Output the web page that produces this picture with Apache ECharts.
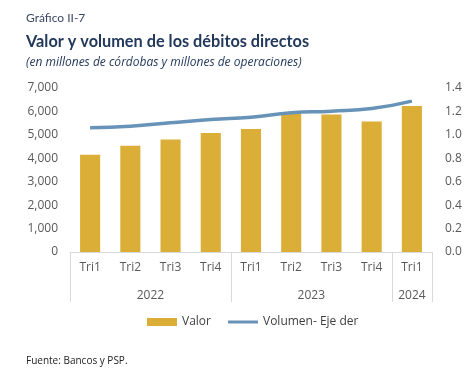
<!DOCTYPE html>
<html><head><meta charset="utf-8">
<script src="https://cdn.jsdelivr.net/npm/echarts@6/dist/echarts.min.js"></script>
<style>html,body{margin:0;padding:0;background:#fff}#c{width:472px;height:381px}</style>
</head><body><div id="c"></div>
<script>
var quarters = ['Tri1','Tri2','Tri3','Tri4','Tri1','Tri2','Tri3','Tri4','Tri1'];
var years = ['2022','2023','2024'];
var yearSpans = [4,4,1];
var valor = [4150, 4540, 4800, 5080, 5250, 5900, 5870, 5570, 6230];
var volumen = [1.06, 1.074, 1.103, 1.131, 1.15, 1.188, 1.202, 1.225, 1.288];
var leftTicks = [0,1000,2000,3000,4000,5000,6000,7000];
var rightTicks = [0,0.2,0.4,0.6,0.8,1.0,1.2,1.4];

var bounds = [0], centers = [];
yearSpans.forEach(function(s,i){ var b = bounds[bounds.length-1]; centers.push(b + s/2); bounds.push(b + s); });

var font = 'Open Sans';
var chart = echarts.init(document.getElementById('c'));
chart.setOption({
  animation:false,
  textStyle:{fontFamily:font},
  title:[
    {text:'Gráfico II-7', left:21, top:7, textStyle:{fontFamily:'Lato', fontSize:12, fontWeight:'normal', color:'#3b4763'}},
    {text:'Valor y volumen de los débitos directos', left:21, top:29, textStyle:{fontFamily:'Lato', fontSize:16.3, fontWeight:'bold', color:'#23395b'}},
    {text:'(en millones de córdobas y millones de operaciones)', left:21, top:52, textStyle:{fontFamily:'Open Sans', fontSize:12, fontStyle:'italic', fontWeight:'normal', color:'#23395b'}},
    {text:'Fuente: Bancos y PSP.', left:21, top:351, textStyle:{fontFamily:'Open Sans', fontSize:10, fontWeight:'normal', color:'#222'}}
  ],
  legend:{
    bottom:48, left:142, itemGap:17, itemWidth:30, itemHeight:8,
    textStyle:{fontSize:12, color:'#404040', fontFamily:font},
    data:[{name:'Valor', icon:'rect'},{name:'Volumen- Eje der', icon:'path://M0,0 L30,0 L30,3 L0,3 Z'}]
  },
  grid:{left:70, right:40, top:88, bottom:129},
  xAxis:[
    {type:'category', data:quarters, position:'bottom',
     axisLine:{show:true, lineStyle:{color:'#d9d9d9'}},
     axisTick:{show:false},
     axisLabel:{color:'#595959', fontSize:12, margin:10}},
    {type:'value', min:0, max:quarters.length, position:'bottom',
     axisLine:{show:false}, splitLine:{show:false},
     axisTick:{show:true, customValues:bounds, length:50, lineStyle:{color:'#d9d9d9'}},
     axisLabel:{show:true, customValues:centers, margin:38, color:'#595959', fontSize:12,
       formatter:function(v){ var i = centers.indexOf(v); return i>=0 ? years[i] : ''; }}}
  ],
  yAxis:[
    {type:'value', min:0, max:7000, interval:1000, splitLine:{show:false},
     axisLine:{show:false}, axisTick:{show:false},
     axisLabel:{color:'#595959', fontSize:12, margin:12,
       formatter:function(v){ return v.toLocaleString('en-US'); }}},
    {type:'value', min:0, max:1.4, interval:0.2, splitLine:{show:false},
     axisLine:{show:false}, axisTick:{show:false},
     axisLabel:{color:'#595959', fontSize:12, margin:13,
       formatter:function(v){ return v.toFixed(1); }}}
  ],
  series:[
    {name:'Valor', type:'bar', data:valor, xAxisIndex:0, yAxisIndex:0, barWidth:'50%',
     itemStyle:{color:'#dbaf37'}},
    {name:'Volumen- Eje der', type:'line', data:volumen, xAxisIndex:0, yAxisIndex:1, smooth:true,
     symbol:'none', lineStyle:{color:'#6893b8', width:3.5}, itemStyle:{color:'#6893b8'}}
  ]
});
</script></body></html>
